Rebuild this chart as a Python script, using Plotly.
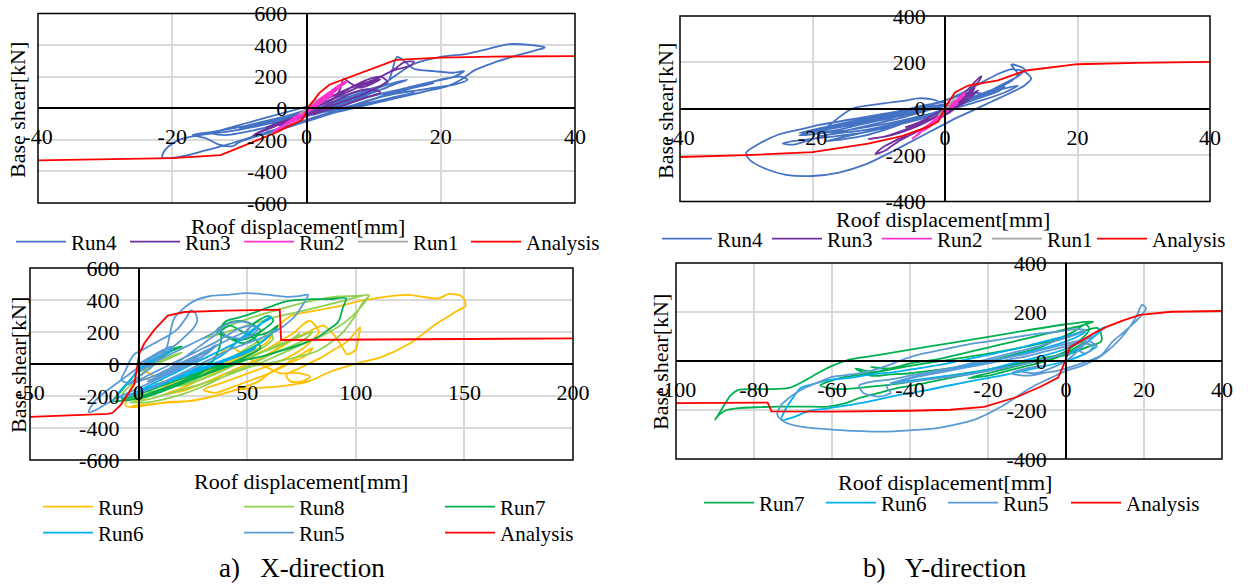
import plotly.graph_objects as go

W, H = 1248, 584
FONT = "Liberation Serif"

# ------------------------------------------------------------------
# DATA  (roof displacement [mm], base shear [kN])
# ------------------------------------------------------------------
# ---- a) X-direction, Run1-Run4 (top-left) ----
xa_run4 = [(0,0),(3,30),(6,70),(9,110),(11,140),(9,100),(6,50),(3,10),(0,-30),(-3,-70),(-6,-100),(-8,-110),
           (-6,-90),(-3,-50),(0,-10),(3,30),(7,80),(10,120),(13,160),(15,180),(13,150),(10,100),(7,50),(4,10),
           (1,-30),(-2,-70),(-5,-110),(-9,-150),(-12,-170),(-14,-160),(-12,-130),(-9,-95),(-6,-60),(-3,-25),(0,10),
           (4,60),(8,110),(12,160),(13.5,325),(14.5,300),(16,250),(19,235),(22,225),(23.5,235),(22,200),(19,170),
           (16,140),(13,110),(10,80),(7,40),(4,0),(0,-40),(-4,-80),(-8,-120),(-12,-150),(-16,-170),(-19,-200),
           (-21,-260),(-21.5,-310),(-20,-315),(-17,-290),(-14,-255),(-11,-220),(-8,-180),(-5,-140),(-2,-100),
           (1,-60),(4,-20),(7,20),(10,60),(13,90),(16,110),(19,130),(22,150),(24,180),(23,200),(21,190),(18,160),
           (14,120),(10,80),(6,40),(2,0),(-2,-40),(-6,-80),(-10,-120),(-14,-150),(-17,-170),(-15,-190),(-13,-230),
           (-11,-240),(-10,-215),(-8,-185),(-5,-150),(-2,-110),(1,-70),(4,-30),(7,10),(10,40),(13,70),(16,100),
           (14,110),(11,90),(8,60),(5,30),(2,0),(-1,-40),(-4,-70),(-7,-100),(-10,-130),(-8,-120),(-5,-90),
           (-2,-50),(1,-10),(4,30),(7,70),(10,110),(13,200),(16,280),(20,325),(24,345),(27,375),(30,405),
           (33,402),(35.5,385),(34,365),(31,330),(28,290),(25,240),(23,180),(21,140),(18,110),(15,80),(12,50),
           (9,20),(6,-10),(3,-40),(0,-80),(-3,-120),(-6,-150),(-4,-130),(-1,-90),(2,-50),(5,-10),(8,30),
           (11,70),(14,110),(17,140),(19,160),(16,130),(13,100),(10,60),(7,20),(4,-10),(1,-40),(-2,-70),
           (-5,-100),(-3,-70),(0,-30),(3,10),(6,50),(9,90),(12,130)]
xa_run3 = [(0,0),(2,40),(4,80),(6,120),(8,150),(10,180),(12,220),(13.5,260),(14.5,290),(16,295),(15.5,270),
           (13,240),(11,200),(9,160),(7,120),(5,80),(3,40),(1,0),(-1,-40),(-3,-80),(-5,-120),(-7,-155),(-8,-175),
           (-7.5,-160),(-6,-130),(-4,-100),(-2,-60),(0,-20),(2,20),(4,60),(5,120),(5.5,185),(6.5,160),(8,130),
           (10,160),(11,185),(10,170),(8,140),(6,100),(4,60),(2,20),(0,-20),(-2,-60),(-4,-90),(-6,-120),
           (-5,-110),(-3,-80),(-1,-40),(1,0),(3,40),(5,90),(7,140),(9,180),(11,200),(12,170),(10,120),(8,80),
           (6,50),(4,20),(2,-10),(0,-50),(-2,-80),(-4,-110),(-3,-100),(-1,-60),(1,-20),(3,20),(5,60),(7,100),
           (9,120),(11,100),(9,70),(7,40),(5,10),(3,-10),(1,-40)]
xa_run2 = [(0,0),(1,30),(2,60),(3,90),(4,120),(5,150),(6,170),(5.5,150),(4.5,120),(3.5,90),(2.5,60),(1.5,30),
           (0.5,0),(-0.5,-30),(-1.5,-60),(-2.5,-90),(-3.5,-115),(-4.5,-140),(-5,-150),(-4,-120),(-3,-95),
           (-2,-65),(-1,-35),(0,-5),(1,25),(2,55),(3,85),(4,110),(5,130),(4,100),(3,70),(2,40),(1,10),(0,-20),
           (-1,-50),(-2,-75),(-3,-100),(-2,-85),(-1,-60),(0,-30),(1,0),(2,30),(3,60),(4,90),(3,75),(2,50),
           (1,20),(0,-10),(-1,-40),(-2,-60)]
xa_run1 = [(0,0),(0.5,20),(1,40),(1.5,55),(1,35),(0.5,15),(0,-5),(-0.5,-20),(-1,-35),(-0.5,-20),(0,0),
           (0.5,25),(1,45)]
xa_analysis = [(-40,-330),(-30,-322),(-20,-316),(-12.8,-297),(-7,-200),(-4.6,-155),(-3.6,-134),(-0.6,-71),
               (0.4,13),(1.9,96),(3.4,149),(9.4,243),(13.3,306),(20,320),(27.8,327),(40,330)]

# ---- b) Y-direction, Run1-Run4 (top-right) ----
ya_run4 = [(0,0),(3,30),(6,60),(9,100),(7,80),(4,40),(1,10),(-2,-20),(-5,-40),(-8,-60),(-11,-75),(-14,-90),
           (-17,-100),(-20,-110),(-22,-115),(-20,-100),(-17,-85),(-14,-70),(-11,-55),(-8,-40),(-5,-20),(-2,0),
           (1,20),(4,50),(7,80),(10,120),(11,150),(10.5,170),(10,190),(11,185),(12,170),(11,140),(9,110),(7,80),
           (4,40),(1,0),(-2,-30),(-5,-55),(-8,-75),(-11,-95),(-14,-110),(-17,-120),(-20,-130),(-23,-140),
           (-24.5,-150),(-23,-155),(-21,-140),(-18,-115),(-15,-95),(-12,-75),(-9,-55),(-6,-35),(-3,-10),(0,15),
           (3,40),(6,65),(9,95),(8,75),(5,45),(2,15),(-1,-15),(-4,-40),(-7,-60),(-10,-80),(-13,-95),(-16,-105),
           (-19,-115),(-17,-60),(-14,0),(-10,20),(-6,35),(-4,45),(-2,40),(-1,30),(-4,10),(-7,-10),(-10,-25),
           (-13,-40),(-16,-55),(-19,-70),(-22,-90),(-25,-110),(-28,-150),(-30,-190),(-29.5,-220),(-27,-260),
           (-24,-285),(-20,-290),(-16,-275),(-12,-240),(-8,-185),(-5,-140),(-2,-95),(1,-50),(4,-10),(7,30),
           (10,70),(12,100),(13,130),(12,160),(10,170),(8,150),(6,120),(4,90),(2,60),(0,35),(-3,10),(-6,-10),
           (-9,-30),(-12,-50),(-15,-65),(-18,-80),(-20,-95),(-17,-80),(-14,-60),(-11,-40),(-8,-20),(-5,0),
           (-2,20),(1,45),(4,70),(6,60),(3,30),(0,0),(-3,-30),(-6,-60),(-9,-90),(-12,-115),(-15,-130),
           (-18,-140),(-15,-120),(-12,-100),(-9,-80),(-6,-60),(-3,-35),(0,-10),(3,15),(6,40),(9,70),(11,100),
           (8,80),(4,50),(0,20),(-4,0),(-8,-25),(-12,-50),(-16,-75),(-20,-100),(-17,-95),(-13,-70),(-9,-45),
           (-5,-20),(-1,5),(2,25),(-2,5),(-6,-20),(-10,-45),(-14,-70),(-18,-90),(-22,-105),(-19,-85),(-15,-60),
           (-11,-35),(-7,-10),(-3,15),(0,30)]
ya_run3 = [(0,0),(1,20),(2,40),(3,70),(4,100),(5,130),(5.5,140),(5,115),(4,85),(3,55),(2,25),(1,0),(0,-20),
           (-1,-40),(-2,-60),(-3,-80),(-4,-95),(-5,-110),(-6,-125),(-7,-140),(-8,-160),(-9,-180),(-10.5,-195),
           (-10,-180),(-9,-160),(-8,-145),(-7,-130),(-5,-110),(-3,-80),(-1,-45),(1,-10),(2,15),(3,40),(4,70),
           (4.5,90),(3.5,60),(2.5,30),(1,0),(-1,-30),(-3,-60),(-5,-85),(-7,-105),(-9,-120),(-11.5,-130),
           (-10,-125),(-8,-110),(-6,-90),(-4,-65),(-2,-40),(0,-15),(2,10),(3.5,40),(5,80),(4,60),(2,30),(0,0),
           (-2,-30),(-4,-60),(-6,-80)]
ya_run2 = [(0,0),(1,20),(2,45),(3,70),(2.5,55),(1.5,30),(0.5,5),(-0.5,-20),(-1.5,-45),(-2.5,-70),(-3.5,-95),
           (-4.5,-120),(-5,-130),(-4,-110),(-3,-85),(-2,-60),(-1,-35),(0,-10),(1,15),(2,40),(3,60),(2,35),
           (1,10),(0,-15),(-1,-40),(-2,-60),(-3,-80),(-4,-100),(-3,-90),(-2,-70),(-1,-45),(0,-20),(1,5),(2,25)]
ya_run1 = [(0,0),(0.5,15),(1,30),(1.5,45),(1,30),(0.5,10),(0,-5),(-0.5,-20),(-1,-30),(-0.5,-15),(0,0)]
ya_analysis = [(-40,-208),(-30,-200),(-20,-187),(-11.6,-150),(-6.5,-118),(-2.5,-77),(-1,-55),(0,5),(1.5,70),
               (3.5,100),(8,122),(12.2,165),(20,192),(29,198),(40,202)]

# ---- a) X-direction, Run5-Run9 (bottom-left) ----
xb_run9 = [(0,-20),(5,-60),(10,-100),(15,-140),(8,-120),(3,-90),(-2,-120),(-5,-200),(-6,-260),(-3,-270),
           (5,-255),(15,-235),(25,-230),(35,-200),(45,-160),(55,-110),(60,-60),(65,-20),(70,20),(75,60),
           (80,100),(78,60),(72,20),(66,-20),(60,-60),(52,-100),(44,-140),(35,-180),(30,-160),(38,-120),
           (46,-80),(54,-40),(62,0),(70,50),(76,100),(80,150),(83,200),(79,270),(76,250),(72,200),(66,150),
           (60,100),(52,50),(44,0),(36,-50),(28,-100),(20,-150),(12,-190),(20,-170),(30,-120),(40,-60),
           (50,0),(58,50),(66,110),(72,160),(78,200),(85,240),(90,180),(94,100),(96,60),(100,90),(101,150),
           (102,230),(100,200),(96,140),(90,90),(84,40),(78,0),(72,-40),(68,-70),(70,-110),(76,-105),
           (79,-80),(75,-60),(70,-55),(66,-60),(62,-40),(56,0),(50,40),(46,80),(42,110),(38,70),(32,20),
           (26,-30),(20,-80),(14,-130),(8,-170),(2,-210),(-3,-240),(5,-200),(14,-150),(24,-90),(34,-30),
           (44,30),(54,90),(60,150),(62,200),(66,260),(70,300),(80,330),(92,360),(102,395),(112,417),
           (124,432),(130,421),(138,410),(143,438),(149,421),(150.5,365),(146,326),(137,250),(125,130),
           (112,45),(101,5),(88,-50),(78,-110),(65,-140),(46,-160),(35,-200),(24,-230),(10,-245),(-3,-262)]
xb_run8 = [(0,-50),(5,-20),(10,10),(15,40),(20,70),(15,50),(10,20),(5,-20),(0,-80),(-5,-150),(-8,-200),
           (-6,-220),(0,-200),(8,-170),(16,-130),(24,-90),(32,-50),(40,-10),(48,30),(56,70),(64,110),(70,150),
           (74,190),(72,160),(66,120),(58,80),(50,40),(42,0),(34,-40),(26,-80),(18,-120),(10,-160),(4,-180),
           (12,-150),(20,-100),(28,-50),(36,0),(44,50),(50,100),(56,150),(60,200),(62,160),(58,110),(52,70),
           (46,30),(40,-10),(32,-60),(24,-110),(18,-140),(26,-110),(34,-70),(42,-20),(50,30),(58,80),(66,130),
           (74,170),(80,200),(76,150),(70,110),(64,80),(58,40),(52,0),(44,-50),(36,-100),(28,-150),(20,-190),
           (12,-220),(4,-240),(-4,-240),(5,-220),(15,-180),(25,-140),(35,-100),(45,-50),(55,0),(65,60),
           (75,120),(85,180),(95,260),(102,350),(106,428),(100,425),(92,422),(78,390),(64,339),(52,290),
           (40,230),(30,160),(38,190),(50,240),(62,290),(75,330),(90,380),(106,430),(103,380),(100,308),
           (93,183),(82,80),(64,17),(50,-20),(40,-60)]
xb_run7 = [(0,-40),(5,0),(10,40),(15,80),(20,110),(15,90),(10,50),(5,10),(0,-40),(-5,-120),(-10,-200),
           (-12,-230),(-8,-230),(0,-210),(10,-170),(20,-120),(30,-70),(40,-20),(50,30),(44,10),(36,-30),
           (28,-80),(34,-50),(42,0),(50,50),(56,100),(54,150),(48,200),(42,240),(38,200),(42,160),(48,130),
           (54,170),(56,210),(52,250),(46,270),(40,250),(36,210),(40,170),(46,150),(52,170),(58,220),(62,270),
           (60,300),(56,280),(52,240),(50,200),(54,180),(60,200),(64,240),(62,200),(58,150),(52,100),(46,60),
           (40,20),(34,-20),(26,-70),(18,-120),(10,-160),(2,-200),(-6,-230),(5,-200),(15,-150),(25,-90),
           (32,-20),(36,60),(38,150),(38,230),(40,266),(46,290),(53,320),(60,355),(68,391),(80,405),(88,405),
           (95.5,411),(94,350),(92,266),(87,210),(82,164),(74,120),(65,80),(56,45),(46,17),(38,-10),(30,-40),
           (22,-80),(14,-120),(6,-160),(-2,-200),(-8,-220)]
xb_run6 = [(0,-30),(4,0),(8,30),(12,60),(16,90),(12,70),(8,40),(4,10),(0,-40),(-4,-100),(-8,-160),(-10,-200),
           (-7,-210),(0,-180),(8,-140),(16,-100),(24,-60),(32,-20),(40,20),(48,60),(54,100),(50,80),(42,40),
           (34,0),(26,-40),(18,-80),(10,-120),(2,-160),(10,-130),(18,-80),(26,-30),(34,20),(40,70),(44,120),
           (48,170),(52,210),(56,250),(60,280),(61,297),(58,270),(54,220),(50,180),(46,140),(40,100),(34,60),
           (28,20),(22,-20),(16,-60),(10,-100),(4,-140),(-2,-180),(-6,-200),(2,-170),(10,-130),(18,-90),
           (26,-50),(34,-10),(42,30),(50,80),(56,130),(60,180),(64,220)]
xb_run5 = [(0,0),(5,40),(10,80),(15,110),(10,70),(5,30),(0,-20),(-5,-70),(-10,-120),(-15,-170),(-20,-230),
           (-23,-300),(-20,-290),(-15,-250),(-8,-200),(0,-150),(8,-100),(16,-50),(24,0),(30,50),(25,20),
           (18,-20),(10,-70),(4,-110),(10,-80),(18,-30),(26,20),(32,70),(36,120),(32,90),(26,50),(20,10),
           (14,-30),(8,-70),(2,-100),(-4,-120),(-8,-100),(-6,-40),(-4,20),(-2,60),(2,90),(6,120),(10,150),
           (14,180),(18,220),(22,290),(24,335),(26,320),(27,270),(25,220),(22,180),(18,130),(14,90),(10,50),
           (6,10),(2,-30),(-2,-60),(4,-20),(10,30),(16,70),(22,110),(28,150),(34,190),(38,230),(36,190),
           (32,150),(28,110),(24,70),(20,30),(16,-10),(12,-50),(8,-80),(14,-40),(20,0),(26,40),(32,80),
           (38,130),(44,170),(50,210),(52,250),(48,265),(42,255),(38,220),(40,180),(46,160),(52,180),(55,220),
           (52,240),(46,220),(42,190),(36,140),(30,100),(24,60),(18,20),(12,-20),(6,-60),(0,-100),(-5,-130),
           (0,-80),(6,-20),(10,50),(13,106),(16.5,287),(25,390),(33,425),(40,432),(50,443),(58,435),(68,420),
           (74,425),(78,432),(76,380),(72,300),(66,230),(60,183),(54,150),(48,120),(42,90),(36,50),(30,10),
           (24,-30),(18,-70),(12,-110),(6,-150),(0,-180),(-5,-200)]
xb_analysis = [(-50,-331),(-14,-312),(-12,-305),(-8.2,-255),(-2,-128),(0.3,64),(2.6,128),(7.2,213),(13.4,302),
               (21,325),(40,333),(65,340),(65.6,150),(100,152),(150,155),(200,160)]

# ---- b) Y-direction, Run5-Run7 (bottom-right) ----
yb_run7 = [(0,20),(3,50),(5,80),(3,60),(0,30),(-5,0),(-10,-20),(-15,-40),(-20,-60),(-25,-70),(-20,-50),
           (-15,-30),(-10,-10),(-5,10),(0,40),(4,90),(6,130),(5,150),(2,120),(-2,90),(-6,60),(-10,40),(-15,20),
           (-20,0),(-25,-15),(-30,-30),(-35,-40),(-40,-50),(-45,-55),(-50,-60),(-54,-30),(-50,-45),(-46,-35),
           (-50,-25),(-45,-30),(-40,-10),(-36,0),(-32,10),(-28,25),(-24,40),(-20,55),(-16,70),(-12,85),(-8,100),
           (-4,115),(0,130),(3,140),(6,155),(7,160),(5,160),(0,150),(-12,120),(-25,85),(-35,60),(-43,38),
           (-50,20),(-56,4),(-60,-20),(-63,-44),(-67,-80),(-71,-110),(-77,-115),(-84,-118),(-86,-140),
           (-88,-190),(-90,-240),(-89,-220),(-87,-200),(-84,-192),(-78,-188),(-74,-186),(-67,-186),(-61,-186),
           (-56,-170),(-53,-151),(-48,-130),(-43,-110),(-36,-90),(-30,-70),(-22,-45),(-15,-20),(-8,5),(0,30),
           (5,55),(9,80),(9,110),(8,135),(4,120),(0,95),(-10,60),(-20,30),(-30,5),(-40,-20),(-50,-50),
           (-58,-70),(-63,-100),(-58,-115),(-50,-105),(-42,-90),(-32,-65),(-20,-35),(-10,-5),(0,25),(6,60)]
yb_run6 = [(0,20),(4,60),(8,110),(10,140),(8,120),(4,80),(0,50),(-5,25),(-10,5),(-15,-15),(-20,-35),(-25,-50),
           (-30,-60),(-35,-70),(-40,-80),(-45,-90),(-40,-70),(-35,-50),(-30,-35),(-25,-20),(-20,-5),(-15,15),
           (-10,35),(-5,55),(0,80),(3,100),(5,120),(2,110),(-3,90),(-8,70),(-14,45),(-20,25),(-26,5),(-32,-15),
           (-38,-30),(-44,-45),(-50,-55),(-56,-70),(-61,-78),(-65,-95),(-68,-110),(-70,-150),(-72,-200),
           (-73,-240),(-70,-230),(-66,-205),(-61,-193),(-52,-170),(-43,-139),(-36,-120),(-30,-100),(-22,-75),
           (-15,-55),(-8,-30),(0,0),(5,30),(8,60)]
yb_run5 = [(0,30),(-5,10),(-10,-10),(-15,-25),(-20,-40),(-25,-55),(-30,-65),(-35,-75),(-40,-85),(-44,-90),
           (-40,-70),(-35,-55),(-30,-40),(-25,-25),(-20,-10),(-15,5),(-10,20),(-5,40),(0,60),(4,80),(7,100),
           (5,90),(0,70),(-5,50),(-10,30),(-15,15),(-20,0),(-25,-15),(-30,-30),(-35,-45),(-40,-60),(-45,-75),
           (-50,-85),(-53,-100),(-52,-130),(-48,-145),(-45,-130),(-46,-105),(-42,-80),(-37,-60),(-32,-40),
           (-27,-20),(-22,0),(-17,20),(-12,40),(-7,60),(-2,85),(2,105),(5,125),(3,130),(-2,120),(-8,110),
           (-14,95),(-20,80),(-26,65),(-32,45),(-38,25),(-42,5),(-46,-20),(-50,-40),(-55,-55),(-60,-65),
           (-63,-84),(-67,-110),(-70,-139),(-73,-180),(-74,-220),(-72,-250),(-68,-268),(-58,-282),(-47,-288),
           (-40,-283),(-33,-274),(-27,-255),(-22.6,-234),(-17,-190),(-12,-139),(-8,-100),(-4,-70),(0,-40),
           (4,-20),(8,10),(12,60),(15,110),(18,180),(19.5,229),(20.5,215),(19,180),(15,120),(12,80),(9,24),
           (4,-10),(-1.5,-37),(-6,-50),(-10,-60),(-14,-50),(-10,-30),(-6,-20),(-12,-40),(-8,-50),(-4,-30),
           (0,0),(3,40),(5,70),(7,60),(5,30),(3,50),(6,80),(8,60)]
yb_analysis = [(-100,-172),(-76.5,-170),(-75.5,-206),(-60,-207),(-40,-203),(-29.7,-199),(-21,-187),(-12.6,-147),
               (-6.7,-106),(-2,-68),(-0.3,-4),(1,57),(2.7,71),(7,112),(10.4,139),(14.7,166),(19,188),(27,201),
               (40,204)]

# axis tick values (labels use a plain hyphen like the original)
x_ticks_top = [-40, -20, 0, 20, 40]
y_ticks_xa = [-600, -400, -200, 0, 200, 400, 600]
y_ticks_ya = [-400, -200, 0, 200, 400]
x_ticks_xb = [-50, 0, 50, 100, 150, 200]
x_ticks_yb = [-100, -80, -60, -40, -20, 0, 20, 40]

# ------------------------------------------------------------------
# LAYOUT (pixel geometry of the four panels: left, top, right, bottom)
# ------------------------------------------------------------------
panels = [
    dict(box=(38, 13.5, 575, 203), xr=(-40, 40), yr=(-600, 600), xt=x_ticks_top, yt=y_ticks_xa),
    dict(box=(680, 16, 1210, 201.5), xr=(-40, 40), yr=(-400, 400), xt=x_ticks_top, yt=y_ticks_ya),
    dict(box=(30, 268, 573, 460), xr=(-50, 200), yr=(-600, 600), xt=x_ticks_xb, yt=y_ticks_xa),
    dict(box=(676, 263, 1222, 459), xr=(-100, 40), yr=(-400, 400), xt=x_ticks_yb, yt=y_ticks_ya),
]

C = dict(run1="#A5A5A5", run2="#FF33CC", run3="#7030A0", run4="#4472C4", run5="#5B9BD5",
         run6="#00B0F0", run7="#00B050", run8="#92D050", run9="#FFC000", ana="#FF0000")

fig = go.Figure()


def add(pts, name, color, k, legend, smooth=True):
    sfx = "" if k == 1 else str(k)
    fig.add_trace(go.Scatter(
        x=[p[0] for p in pts], y=[p[1] for p in pts], mode="lines", name=name,
        line=dict(color=color, width=1.8, shape="spline" if smooth else "linear", smoothing=0.8),
        xaxis="x" + sfx, yaxis="y" + sfx, legend=legend, hoverinfo="skip"))


# panel 1
add(xa_run4, "Run4", C["run4"], 1, "legend")
add(xa_run3, "Run3", C["run3"], 1, "legend")
add(xa_run2, "Run2", C["run2"], 1, "legend")
add(xa_run1, "Run1", C["run1"], 1, "legend")
add(xa_analysis, "Analysis", C["ana"], 1, "legend6", smooth=False)
# panel 2
add(ya_run4, "Run4", C["run4"], 2, "legend2")
add(ya_run3, "Run3", C["run3"], 2, "legend2")
add(ya_run2, "Run2", C["run2"], 2, "legend2")
add(ya_run1, "Run1", C["run1"], 2, "legend2")
add(ya_analysis, "Analysis", C["ana"], 2, "legend7", smooth=False)
# panel 3
add(xb_run9, "Run9", C["run9"], 3, "legend3")
add(xb_run8, "Run8", C["run8"], 3, "legend3")
add(xb_run7, "Run7", C["run7"], 3, "legend3")
add(xb_run6, "Run6", C["run6"], 3, "legend4")
add(xb_run5, "Run5", C["run5"], 3, "legend4")
add(xb_analysis, "Analysis", C["ana"], 3, "legend4", smooth=False)
# panel 4
add(yb_run7, "Run7", C["run7"], 4, "legend5")
add(yb_run6, "Run6", C["run6"], 4, "legend5")
add(yb_run5, "Run5", C["run5"], 4, "legend5")
add(yb_analysis, "Analysis", C["ana"], 4, "legend8", smooth=False)

layout = dict(width=W, height=H, autosize=False,
              margin=dict(l=0, r=0, t=0, b=0, autoexpand=False),
              paper_bgcolor="white", plot_bgcolor="white",
              font=dict(family=FONT, size=22, color="black"))
shapes = []
annotations = []
for i, p in enumerate(panels):
    k = i + 1
    sfx = "" if k == 1 else str(k)
    l, t, r, b = p["box"]
    xd = [l / W, r / W]
    yd = [1 - b / H, 1 - t / H]
    x0, x1 = p["xr"]
    y0, y1 = p["yr"]
    xpos = yd[0] + (0 - y0) / (y1 - y0) * (yd[1] - yd[0])
    ypos = xd[0] + (0 - x0) / (x1 - x0) * (xd[1] - xd[0])
    layout["xaxis" + sfx] = dict(
        domain=xd, range=[x0, x1], anchor="free", position=xpos,
        showline=True, linecolor="black", linewidth=1.5,
        showgrid=True, gridcolor="#D9D9D9", gridwidth=1.5, zeroline=False,
        tickmode="array", tickvals=p["xt"], ticktext=[str(v) for v in p["xt"]],
        ticks="", ticklabelstandoff=9, tickfont=dict(size=22, family=FONT, color="black"),
        fixedrange=True)
    layout["yaxis" + sfx] = dict(
        domain=yd, range=[y0, y1], anchor="free", position=ypos,
        showline=True, linecolor="black", linewidth=1.5,
        showgrid=True, gridcolor="#D9D9D9", gridwidth=1.5, zeroline=False,
        tickmode="array", tickvals=p["yt"], ticktext=[str(v) for v in p["yt"]],
        ticks="", ticklabelstandoff=14, tickfont=dict(size=22, family=FONT, color="black"),
        fixedrange=True)
    shapes.append(dict(type="rect", xref="x" + sfx + " domain", yref="y" + sfx + " domain",
                       x0=0, x1=1, y0=0, y1=1, line=dict(color="black", width=1.5), layer="above"))

# axis titles and captions (pixel positions)
titles = [
    ("Roof displacement[mm]", 298, 226, 0), ("Roof displacement[mm]", 943, 219, 0),
    ("Roof displacement[mm]", 301, 481, 0), ("Roof displacement[mm]", 945, 482, 0),
    ("Base shear[kN]", 18, 110, -90), ("Base shear[kN]", 665, 111, -90),
    ("Base shear[kN]", 18, 365, -90), ("Base shear[kN]", 660, 362, -90),
]
for txt, x, y, ang in titles:
    annotations.append(dict(text=txt, x=x / W, y=1 - y / H, xref="paper", yref="paper",
                            showarrow=False, textangle=ang, xanchor="center", yanchor="middle",
                            font=dict(size=22, family=FONT, color="black")))
for txt, x, y in [("a)   X-direction", 302, 568), ("b)   Y-direction", 945, 568)]:
    annotations.append(dict(text=txt, x=x / W, y=1 - y / H, xref="paper", yref="paper",
                            showarrow=False, xanchor="center", yanchor="middle",
                            font=dict(size=27, family=FONT, color="black")))
layout["shapes"] = shapes
layout["annotations"] = annotations


def leg(left, cy, ew):
    d = dict(orientation="h", x=left / W, xanchor="left", y=1 - cy / H, yanchor="middle",
             bgcolor="rgba(0,0,0,0)", borderwidth=0, itemwidth=50, tracegroupgap=0,
             font=dict(size=21, family=FONT, color="black"))
    if ew:
        d.update(entrywidth=ew, entrywidthmode="pixels")
    return d


layout["legend"] = leg(11, 242, 49)
layout["legend6"] = leg(466, 242, 0)
layout["legend2"] = leg(657, 239, 45)
layout["legend7"] = leg(1092, 239, 0)
layout["legend3"] = leg(38, 507, 136)
layout["legend4"] = leg(38, 533, 136)
layout["legend5"] = leg(699, 503, 57)
layout["legend8"] = leg(1066, 503, 0)

fig.update_layout(**layout)
fig.write_html("out.html", config={"displayModeBar": False},
               post_script="document.body.style.margin='0';document.body.style.overflow='hidden';")
